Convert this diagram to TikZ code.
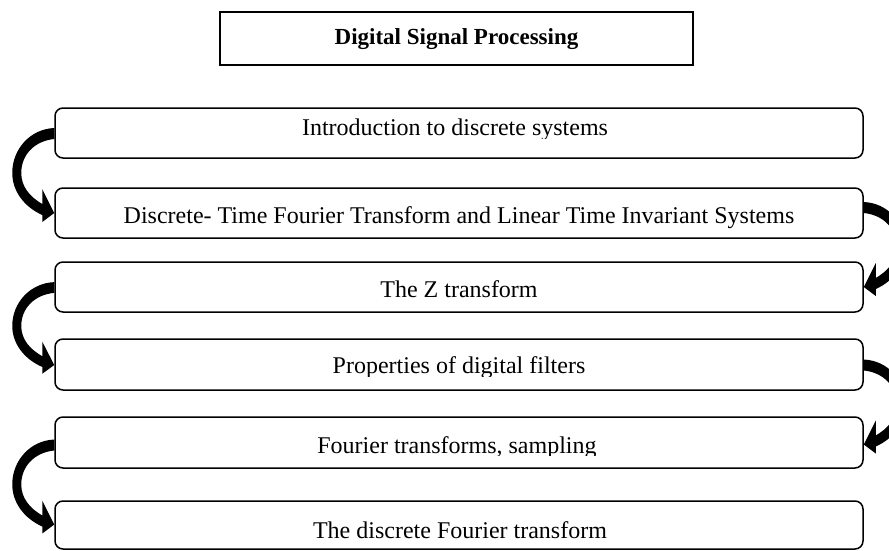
\documentclass[tikz,border=0pt]{standalone}
\usepackage{fontspec}
\setmainfont{Liberation Serif}
\usetikzlibrary{calc}
\begin{document}
\begin{tikzpicture}[x=1pt,y=-1pt,
  rbox/.style={draw=black, fill=white, line width=1.5pt, rounded corners=8pt,
    minimum width=808pt, inner sep=0pt},
  tbox/.style={draw=black, line width=2.3pt, minimum width=473pt,
    minimum height=53pt, inner sep=0pt},
  lbl/.style={anchor=base, inner sep=0pt, font=\fontsize{24}{28}\selectfont},
  ttl/.style={anchor=base, inner sep=0pt, font=\fontsize{23}{27}\selectfont\bfseries},
  carrow/.pic={
    \fill[black] (0,-5) .. controls (-24,-4) and (-42,16) .. (-42,40)
      .. controls (-42,58) and (-30,74) .. (-12,82)
      -- (-12,89) -- (0,80) -- (-12,56) -- (-12,71)
      .. controls (-24,64) and (-33,54) .. (-33,40)
      .. controls (-33,22) and (-20,8) .. (0,6) -- cycle;
  }]
\useasboundingbox (0,0) rectangle (889,551);
\clip (0,0) rectangle (889,551);

% title
\node[tbox] (title) at (456.5,38.5) {};
\node[ttl] (ttltext) at (456.5,45) {Digital Signal Processing};

% boxes
\node[rbox, minimum height=50pt] (r1) at (459,133) {};
\node[rbox, minimum height=50pt] (r2) at (459,213) {};
\node[rbox, minimum height=50pt] (r3) at (459,287) {};
\node[rbox, minimum height=51pt] (r4) at (459,364.5) {};
\node[rbox, minimum height=51pt] (r5) at (459,442.5) {};
\node[rbox, minimum height=48pt] (r6) at (459,525) {};

% curved arrows
\pic (a1) at (r1.west) {carrow};
\pic[xscale=-1] (a2) at ($(r2.east)+(0,-6)$) {carrow};
\pic[yscale=0.975] (a3) at (r3.west) {carrow};
\pic[xscale=-1] (a4) at (r4.east) {carrow};
\pic (a5) at ($(r5.west)+(0,2)$) {carrow};

% texts
\begin{scope}
  \clip (0,0) rectangle (889,138.5);
  \node[lbl] (t1) at (455,135) {Introduction to discrete systems};
\end{scope}
\node[lbl] (t2) at (459,223) {Discrete- Time Fourier Transform and Linear Time Invariant Systems};
\node[lbl] (t3) at (459,297) {The Z transform};
\begin{scope}
  \clip (0,0) rectangle (889,376);
  \node[lbl] (t4) at (459,373) {Properties of digital filters};
\end{scope}
\begin{scope}
  \clip (0,0) rectangle (889,455.5);
  \node[lbl] (t5) at (457,453) {Fourier transforms, sampling};
\end{scope}
\node[lbl] (t6) at (460,538) {The discrete Fourier transform};
\end{tikzpicture}
\end{document}
